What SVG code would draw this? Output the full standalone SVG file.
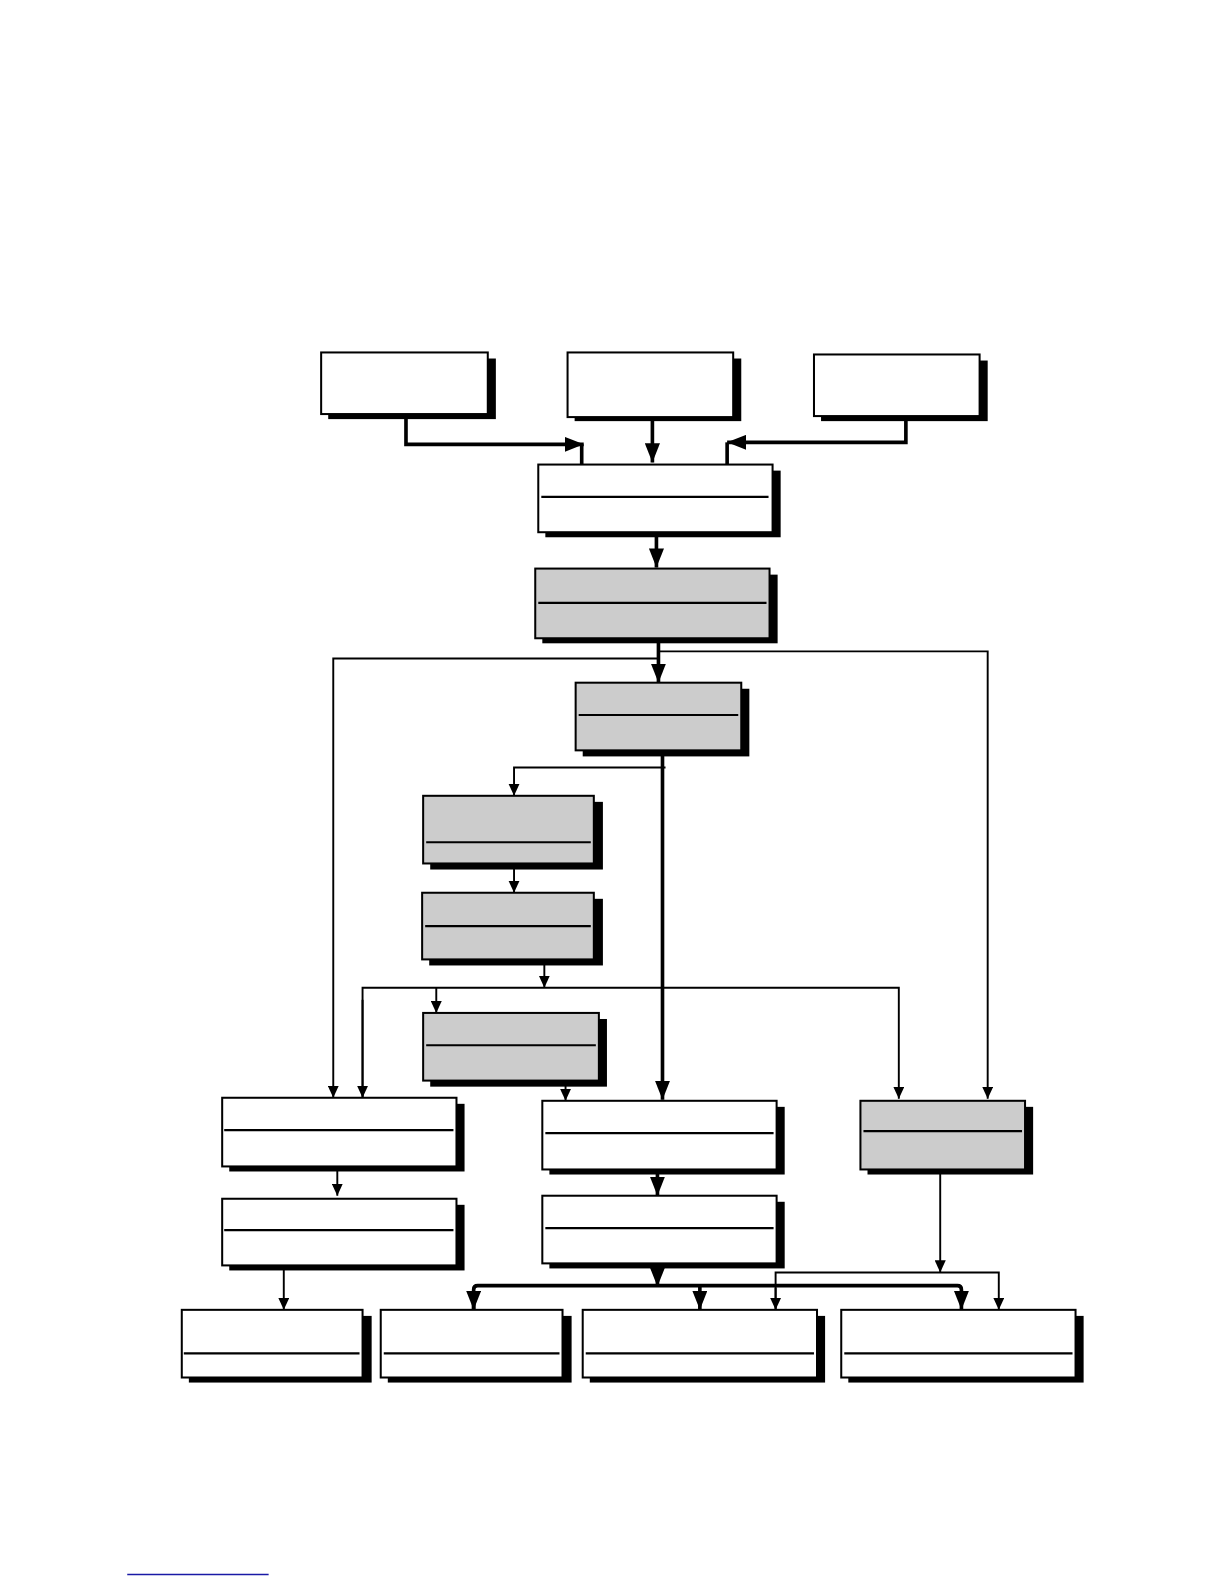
<svg xmlns="http://www.w3.org/2000/svg" width="1224" height="1584" viewBox="0 0 1224 1584">
<defs>
<style>
.sh{fill:#000}
.bw{fill:#fff;stroke:#000;stroke-width:2}
.bg{fill:#cccccc;stroke:#000;stroke-width:2}
.dv{stroke:#000;stroke-width:2.2}
.t{fill:none;stroke:#000;stroke-width:1.9}
.k{fill:none;stroke:#000;stroke-width:3.6}
</style>
<marker id="as" viewBox="0 0 10 10" refX="10" refY="5" markerUnits="userSpaceOnUse" markerWidth="12" markerHeight="11" orient="auto" preserveAspectRatio="none"><path d="M0,0 L10,5 L0,10 z" fill="#000"/></marker>
<marker id="al" viewBox="0 0 10 10" refX="10" refY="5" markerUnits="userSpaceOnUse" markerWidth="19" markerHeight="15" orient="auto" preserveAspectRatio="none"><path d="M0,0 L10,5 L0,10 z" fill="#000"/></marker>
</defs>
<rect width="1224" height="1584" fill="#fff"/>
<g transform="scale(1.0099)">
<g id="connectors">
<path class="k" d="M402,414 V440 H578" marker-end="url(#al)"/>
<path class="k" d="M576,440 V460"/>
<path class="k" d="M646,416 V458" marker-end="url(#al)"/>
<path class="k" d="M897,416 V438 H720" marker-end="url(#al)"/>
<path class="k" d="M720,438 V460"/>
<path class="k" d="M650,531 V562" marker-end="url(#al)"/>
<path class="k" d="M652,636 V676" marker-end="url(#al)"/>
<path class="t" d="M652,652 H330 V1087" marker-end="url(#as)"/>
<path class="t" d="M652,645 H978 V1088" marker-end="url(#as)"/>
<path class="k" d="M656,748 V1089" marker-end="url(#al)"/>
<path class="t" d="M659,760 H509 V788" marker-end="url(#as)"/>
<path class="t" d="M509,860 V884" marker-end="url(#as)"/>
<path class="t" d="M539,955 V978" marker-end="url(#as)"/>
<path class="t" d="M359,1087 V978 H890 V1088" marker-end="url(#as)"/>
<path class="t" d="M359,990 V1087" marker-end="url(#as)"/>
<path class="t" d="M432,978 V1003" marker-end="url(#as)"/>
<path class="t" d="M560,1075 V1090" marker-end="url(#as)"/>
<path class="t" d="M334,1159 V1184" marker-end="url(#as)"/>
<path class="k" d="M651,1162 V1184" marker-end="url(#al)"/>
<path class="k" d="M651,1255 V1274" marker-end="url(#al)"/>
<path class="k" d="M469,1297 V1277 Q469,1273 473,1273 H948 Q952,1273 952,1277 V1297" marker-end="url(#al)"/>
<path class="k" d="M469,1280 V1297" marker-end="url(#al)"/>
<path class="k" d="M693,1273 V1297" marker-end="url(#al)"/>
<path class="t" d="M931,1162 V1260" marker-end="url(#as)"/>
<path class="t" d="M768,1297 V1260 H989 V1297" marker-end="url(#as)"/>
<path class="t" d="M768,1275 V1297" marker-end="url(#as)"/>
<path class="t" d="M281,1257 V1297" marker-end="url(#as)"/>
</g>
<g id="nodeA"><rect class="sh" x="325" y="355" width="166" height="60"/><rect class="bw" x="318" y="349" width="165" height="61"/></g>
<g id="nodeB"><rect class="sh" x="569" y="355" width="165" height="62"/><rect class="bw" x="562" y="349" width="164" height="64"/></g>
<g id="nodeC"><rect class="sh" x="813" y="357" width="165" height="60"/><rect class="bw" x="806" y="351" width="164" height="61"/></g>
<g id="nodeD"><rect class="sh" x="540" y="466" width="233" height="66"/><rect class="bw" x="533" y="460" width="232" height="67"/><line class="dv" x1="536" y1="492" x2="761" y2="492"/></g>
<g id="nodeE"><rect class="sh" x="537" y="569" width="233" height="68"/><rect class="bg" x="530" y="563" width="232" height="69"/><line class="dv" x1="533" y1="597" x2="759" y2="597"/></g>
<g id="nodeF"><rect class="sh" x="577" y="682" width="165" height="67"/><rect class="bg" x="570" y="676" width="164" height="67"/><line class="dv" x1="573" y1="708" x2="731" y2="708"/></g>
<g id="nodeI"><rect class="sh" x="426" y="794" width="171" height="67"/><rect class="bg" x="419" y="788" width="169" height="67"/><line class="dv" x1="422" y1="834" x2="585" y2="834"/></g>
<g id="nodeJ"><rect class="sh" x="425" y="890" width="172" height="66"/><rect class="bg" x="418" y="884" width="170" height="66"/><line class="dv" x1="421" y1="917" x2="585" y2="917"/></g>
<g id="nodeL"><rect class="sh" x="426" y="1009" width="175" height="67"/><rect class="bg" x="419" y="1003" width="174" height="67"/><line class="dv" x1="422" y1="1035" x2="590" y2="1035"/></g>
<g id="nodeG"><rect class="sh" x="227" y="1093" width="233" height="67"/><rect class="bw" x="220" y="1087" width="232" height="68"/><line class="dv" x1="222" y1="1119" x2="449" y2="1119"/></g>
<g id="nodeH"><rect class="sh" x="544" y="1096" width="233" height="67"/><rect class="bw" x="537" y="1090" width="232" height="68"/><line class="dv" x1="540" y1="1122" x2="766" y2="1122"/></g>
<g id="nodeK"><rect class="sh" x="859" y="1096" width="164" height="67"/><rect class="bg" x="852" y="1090" width="163" height="68"/><line class="dv" x1="855" y1="1120" x2="1012" y2="1120"/></g>
<g id="nodeM"><rect class="sh" x="227" y="1193" width="233" height="65"/><rect class="bw" x="220" y="1187" width="232" height="66"/><line class="dv" x1="222" y1="1218" x2="449" y2="1218"/></g>
<g id="nodeN"><rect class="sh" x="544" y="1190" width="233" height="66"/><rect class="bw" x="537" y="1184" width="232" height="67"/><line class="dv" x1="540" y1="1216" x2="766" y2="1216"/></g>
<g id="nodeO"><rect class="sh" x="187" y="1303" width="181" height="66"/><rect class="bw" x="180" y="1297" width="179" height="67"/><line class="dv" x1="182" y1="1340" x2="356" y2="1340"/></g>
<g id="nodeP"><rect class="sh" x="384" y="1303" width="182" height="66"/><rect class="bw" x="377" y="1297" width="180" height="67"/><line class="dv" x1="380" y1="1340" x2="554" y2="1340"/></g>
<g id="nodeQ"><rect class="sh" x="584" y="1303" width="233" height="66"/><rect class="bw" x="577" y="1297" width="232" height="67"/><line class="dv" x1="580" y1="1340" x2="806" y2="1340"/></g>
<g id="nodeR"><rect class="sh" x="840" y="1303" width="233" height="66"/><rect class="bw" x="833" y="1297" width="232" height="67"/><line class="dv" x1="836" y1="1340" x2="1062" y2="1340"/></g>
<line x1="126" y1="1559" x2="266" y2="1559" stroke="#1a1aa6" stroke-width="1.5"/>
</g>
</svg>
